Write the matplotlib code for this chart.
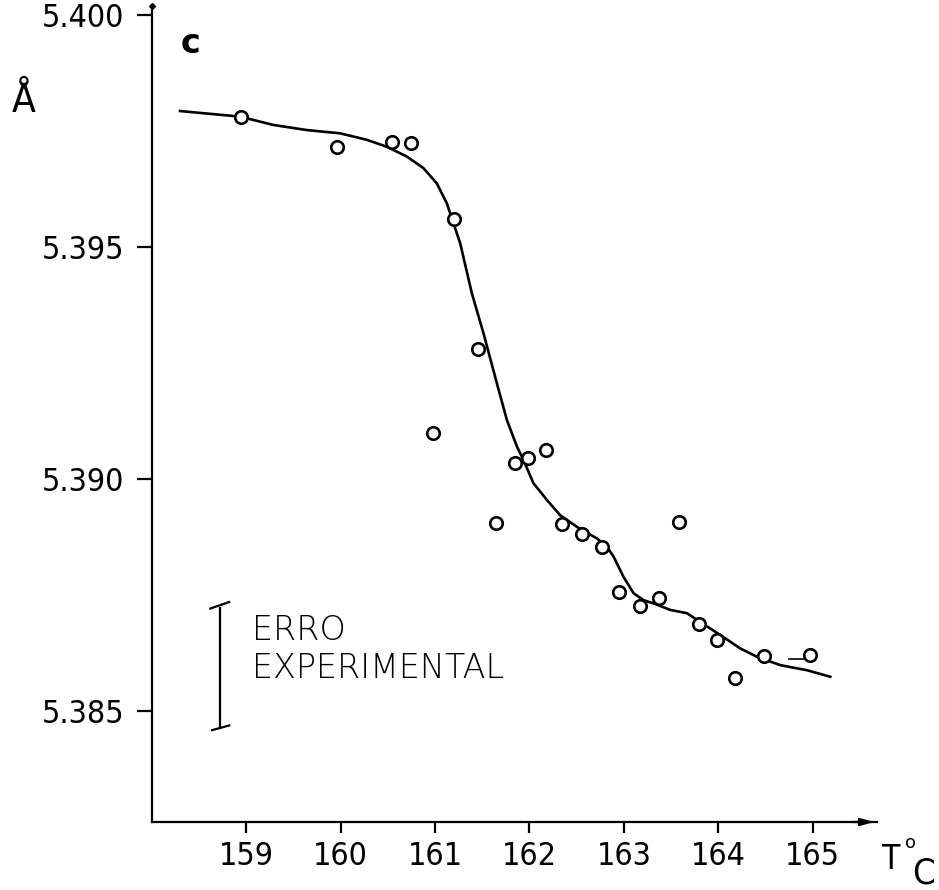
import matplotlib
matplotlib.use("Agg")
import matplotlib.pyplot as plt

# measured points (temperature in C, lattice parameter in angstrom)
temp = [158.95, 159.96, 160.54, 160.74, 160.98, 161.20, 161.45, 161.65, 161.85,
        161.98, 162.17, 162.34, 162.56, 162.77, 162.95, 163.17, 163.37, 163.58,
        163.79, 163.99, 164.18, 164.48, 164.97]
lattice = [5.39781, 5.39716, 5.39727, 5.39724, 5.39099, 5.39560, 5.39280, 5.38905, 5.39034,
           5.39045, 5.39063, 5.38903, 5.38881, 5.38854, 5.38757, 5.38727, 5.38743, 5.38907,
           5.38688, 5.38653, 5.38572, 5.38619, 5.38621]

# hand drawn fit curve
curve_t = [158.300, 158.935, 159.288, 159.642, 159.994, 160.278, 160.489, 160.701, 160.877,
           161.019, 161.125, 161.266, 161.390, 161.513, 161.655, 161.761, 161.867, 161.936,
           162.042, 162.184, 162.325, 162.502, 162.714, 162.820, 162.890, 162.996, 163.102,
           163.208, 163.314, 163.491, 163.667, 163.808, 164.020, 164.232, 164.409, 164.656,
           164.939, 165.185]
curve_a = [5.39793, 5.39781, 5.39763, 5.39752, 5.39745, 5.39731, 5.39716, 5.39695, 5.39670,
           5.39637, 5.39594, 5.39508, 5.39400, 5.39314, 5.39206, 5.39127, 5.39070, 5.39041,
           5.38991, 5.38955, 5.38922, 5.38897, 5.38872, 5.38854, 5.38833, 5.38789, 5.38754,
           5.38739, 5.38732, 5.38718, 5.38711, 5.38692, 5.38664, 5.38635, 5.38617, 5.38599,
           5.38588, 5.38574]

# little stroke left of the last point
dash_t = [164.744, 164.903]
dash_a = [5.38612, 5.38612]

xticks = [159, 160, 161, 162, 163, 164, 165]
yticks = [5.385, 5.390, 5.395, 5.400]
ytick_labels = ["5.385", "5.390", "5.395", "5.400"]

# experimental error bar
err_t = 158.72
err_lo, err_hi = 5.38463, 5.38722

fig = plt.figure(figsize=(9.39, 8.90), dpi=100)
ax = fig.add_axes([0.1616, 0.0764, 0.7724, 0.9172])

xmin, xmax = 158.0, 165.68
ymin, ymax = 5.38261, 5.4002
ax.set_xlim(xmin, xmax)
ax.set_ylim(ymin, ymax)

for s in ["top", "right"]:
    ax.spines[s].set_visible(False)
for s in ["left", "bottom"]:
    ax.spines[s].set_linewidth(1.6)

ax.set_xticks(xticks)
ax.set_xticklabels([str(t) for t in xticks], fontsize=23, fontstretch="condensed")
ax.set_yticks(yticks)
ax.set_yticklabels(ytick_labels, fontsize=23, fontstretch="condensed")
ax.tick_params(axis="x", direction="out", length=8, width=1.6, pad=6)
ax.tick_params(axis="y", direction="out", length=11, width=1.6, pad=9)

# curve and points
ax.plot(curve_t, curve_a, color="black", lw=1.9, solid_joinstyle="round")
ax.plot(dash_t, dash_a, color="black", lw=1.2)
ax.plot(temp, lattice, "o", ms=9, mfc="white", mec="black", mew=1.9, zorder=3)

# error bar
ax.plot([err_t, err_t], [err_lo, err_hi], color="black", lw=1.6)
ax.plot([err_t - 0.1, err_t + 0.1], [err_hi - 0.00001, err_hi + 0.00013], color="black", lw=1.6)
ax.plot([err_t - 0.08, err_t + 0.1], [err_lo - 0.00004, err_lo + 0.00006], color="black", lw=1.6)
ax.text(159.06, 5.38653, "ERRO", fontsize=24, fontweight="light", va="baseline")
ax.text(159.06, 5.38571, "EXPERIMENTAL", fontsize=24, fontweight="light", va="baseline")

# axis arrow and top dot
ax.annotate("", xy=(xmax, ymin), xytext=(xmax - 0.3, ymin), annotation_clip=False,
            arrowprops=dict(arrowstyle="-|>,head_length=0.8,head_width=0.22", color="black", lw=1.6))
ax.plot([xmin], [ymax], "D", color="black", ms=3, clip_on=False)

# labels
fig.text(0.203, 0.951, "c", fontsize=24, fontweight="bold", ha="center", va="center")
fig.text(0.025, 0.886, "Å", fontsize=28, fontstretch="condensed", ha="center", va="center")
fig.text(0.949, 0.034, "T", fontsize=24, fontstretch="condensed", ha="center", va="center")
fig.text(0.970, 0.053, "o", fontsize=13, ha="center", va="center")
fig.text(0.984, 0.019, "C", fontsize=26, fontstretch="condensed", ha="center", va="center")

fig.savefig("out.png", dpi=100)
